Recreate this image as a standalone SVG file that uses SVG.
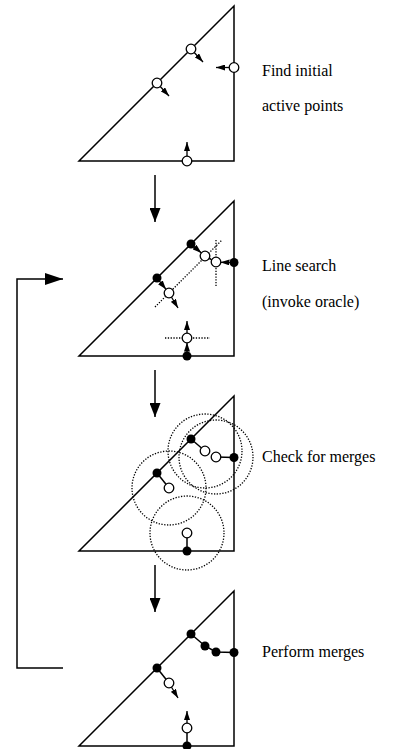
<svg xmlns="http://www.w3.org/2000/svg" width="399" height="749" viewBox="0 0 399 749">
<style>
.tri{fill:none;stroke:#000;stroke-width:1.5;stroke-linejoin:miter}
.ln{fill:none;stroke:#000;stroke-width:1.5}
.sa{fill:none;stroke:#000;stroke-width:1.3;marker-end:url(#sa)}
.dot{fill:none;stroke:#000;stroke-width:1.3;stroke-dasharray:1.3 1.5}
.oc{fill:#fff;stroke:#000;stroke-width:1.3}
.fd{fill:#000}
.lbl{font-family:"Liberation Serif","Times New Roman",serif;font-size:16px;fill:#000}
.big{fill:none;stroke:#000;stroke-width:1.5;marker-end:url(#ba)}
.fb{fill:none;stroke:#000;stroke-width:1.5;marker-end:url(#fa)}
</style>
<defs>
<marker id="sa" markerUnits="userSpaceOnUse" markerWidth="9" markerHeight="6" refX="9" refY="3" orient="auto"><path d="M0,0 L9,3 L0,6 Z" fill="#000"/></marker>
<marker id="ba" markerUnits="userSpaceOnUse" markerWidth="14" markerHeight="11" refX="14" refY="5.5" orient="auto"><path d="M0,0 L14,5.5 L0,11 Z" fill="#000"/></marker>
<marker id="fa" markerUnits="userSpaceOnUse" markerWidth="18" markerHeight="12" refX="18" refY="6" orient="auto"><path d="M0,0 L18,6 L0,12 Z" fill="#000"/></marker>
</defs>

<g id="step1">
<polygon class="tri" points="79,161 234,161 234,6"/>
<path class="sa" d="M191,49 L203,62"/>
<path class="sa" d="M157,83 L169,96"/>
<path class="sa" d="M234,67.5 L216,67.5"/>
<path class="sa" d="M187,161 L187,142"/>
<circle class="oc" cx="191" cy="49" r="4.8"/>
<circle class="oc" cx="157" cy="83" r="4.8"/>
<circle class="oc" cx="234" cy="67.5" r="4.8"/>
<circle class="oc" cx="187" cy="161" r="4.8"/>
<text class="lbl" x="262" y="76">Find initial</text>
<text class="lbl" x="262" y="111">active points</text>
</g>

<g id="step2" transform="translate(0,195)">
<polygon class="tri" points="79,161 234,161 234,6"/>
<path class="dot" d="M155,112 L222,45"/>
<path class="dot" d="M216,45 L216,91"/>
<path class="dot" d="M165,143 L210,143"/>
<path class="sa" d="M191,49 L201.4,57.9"/>
<path class="sa" d="M205,61 L211.8,64.7"/>
<path class="sa" d="M234,67.5 L220.5,67.3"/>
<path class="sa" d="M157,83 L166,94.3"/>
<path class="sa" d="M169,98 L178,113"/>
<path class="sa" d="M187,161 L187,147.5"/>
<path class="sa" d="M187,143 L187,126"/>
<circle class="oc" cx="205" cy="61" r="4.8"/>
<circle class="oc" cx="216" cy="67" r="4.8"/>
<circle class="oc" cx="169" cy="98" r="4.8"/>
<circle class="oc" cx="187" cy="143" r="4.8"/>
<circle class="fd" cx="191" cy="49" r="4.5"/>
<circle class="fd" cx="157" cy="83" r="4.5"/>
<circle class="fd" cx="234" cy="67.5" r="4.5"/>
<circle class="fd" cx="187" cy="161" r="4.5"/>
<text class="lbl" x="262" y="76">Line search</text>
<text class="lbl" x="262" y="112">(invoke oracle)</text>
</g>

<g id="step3" transform="translate(0,390)">
<polygon class="tri" points="79,161 234,161 234,6"/>
<circle class="dot" cx="205" cy="61" r="37"/>
<circle class="dot" cx="216" cy="67" r="37"/>
<circle class="dot" cx="169" cy="98" r="37"/>
<circle class="dot" cx="187" cy="143" r="37"/>
<path class="ln" d="M191,49 L205,61"/>
<path class="ln" d="M216,67 L234,67.5"/>
<path class="ln" d="M157,83 L169,98"/>
<path class="ln" d="M187,161 L187,143"/>
<circle class="oc" cx="205" cy="61" r="4.8"/>
<circle class="oc" cx="216" cy="67" r="4.8"/>
<circle class="oc" cx="169" cy="98" r="4.8"/>
<circle class="oc" cx="187" cy="143" r="4.8"/>
<circle class="fd" cx="191" cy="49" r="4.5"/>
<circle class="fd" cx="157" cy="83" r="4.5"/>
<circle class="fd" cx="234" cy="67.5" r="4.5"/>
<circle class="fd" cx="187" cy="161" r="4.5"/>
<text class="lbl" x="262" y="72">Check for merges</text>
</g>

<g id="step4" transform="translate(0,585)">
<polygon class="tri" points="79,161 234,161 234,6"/>
<path class="ln" d="M191,49 L205,61 L216,67 L234,67.5"/>
<path class="ln" d="M157,83 L169,98"/>
<path class="ln" d="M187,161 L187,143"/>
<path class="sa" d="M169,98 L178,113"/>
<path class="sa" d="M187,143 L187,126"/>
<circle class="oc" cx="169" cy="98" r="4.8"/>
<circle class="oc" cx="187" cy="143" r="4.8"/>
<circle class="fd" cx="191" cy="49" r="4.5"/>
<circle class="fd" cx="205" cy="61" r="4.5"/>
<circle class="fd" cx="216" cy="67" r="4.5"/>
<circle class="fd" cx="234" cy="67.5" r="4.5"/>
<circle class="fd" cx="157" cy="83" r="4.5"/>
<circle class="fd" cx="187" cy="161" r="4.5"/>
<text class="lbl" x="262" y="72">Perform merges</text>
</g>

<g id="connectors">
<path class="big" d="M155,175 L155,222"/>
<path class="big" d="M155,370 L155,417"/>
<path class="big" d="M155,565 L155,612"/>
<path class="fb" d="M63,668 H17 V279 H63"/>
</g>
</svg>
